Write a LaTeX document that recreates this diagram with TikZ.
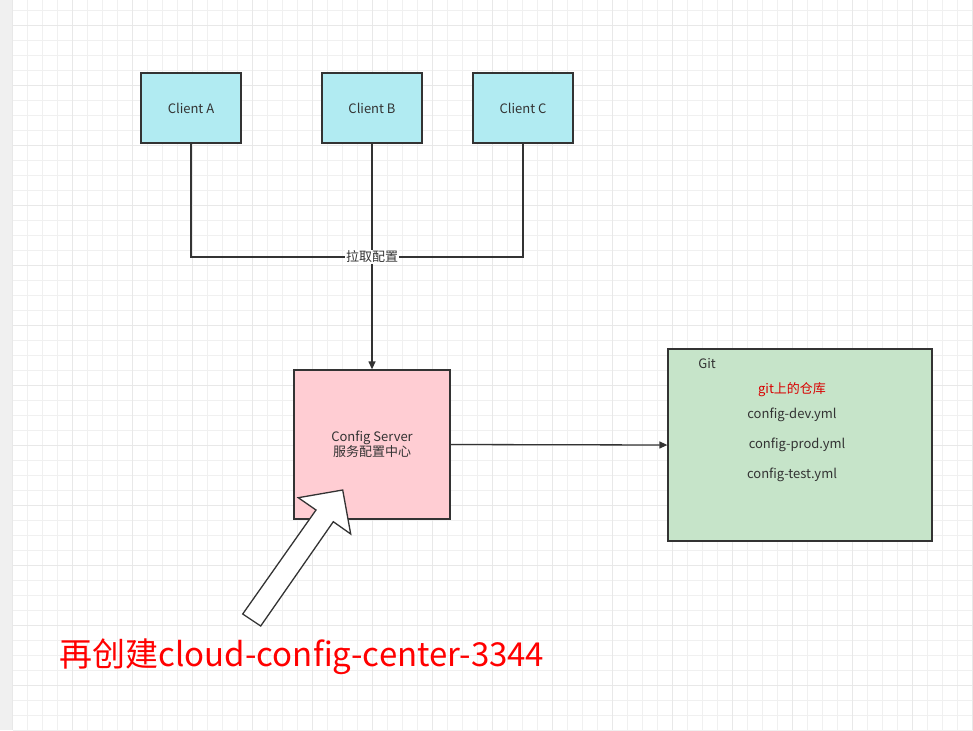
\documentclass[tikz,border=0pt]{standalone}
\usepackage{fontspec}
\setmainfont{Noto Sans CJK SC}
\usetikzlibrary{arrows.meta}
\definecolor{cli}{HTML}{B1EBF2}
\definecolor{srv}{HTML}{FFCDD3}
\definecolor{git}{HTML}{C6E4C9}
\definecolor{ln}{HTML}{333333}
\begin{document}
\begin{tikzpicture}[x=1pt,y=-1pt,
  box/.style={draw=ln,line width=1.3pt,inner sep=0pt,font=\fontsize{13}{15}\selectfont,text=ln,align=center},
  con/.style={draw=ln,line width=1.3pt},
  arr/.style={con,-{Triangle[length=8pt,width=7pt]}},
  t/.style={font=\fontsize{13}{15}\selectfont,text=ln}]
\useasboundingbox (0,0) rectangle (973,730);
\fill[white] (0,0) rectangle (973,730);
\fill[black!6] (0,0) rectangle (13,730);
\foreach \x in {12.7,27.7,...,973} \draw[black!6,line width=0.8pt] (\x,0) -- (\x,730);
\foreach \y in {10,25,...,730} \draw[black!6,line width=0.8pt] (13,\y) -- (973,\y);
\foreach \x in {12.7,72.7,...,973} \draw[black!9,line width=0.9pt] (\x,0) -- (\x,730);
\foreach \y in {25,85,...,730} \draw[black!9,line width=0.9pt] (13,\y) -- (973,\y);

\node[box,fill=cli,minimum width=100pt,minimum height=70pt] (a) at (191,108) {Client A};
\node[box,fill=cli,minimum width=100pt,minimum height=70pt] (b) at (372,108) {Client B};
\node[box,fill=cli,minimum width=100pt,minimum height=70pt] (c) at (523,108) {Client C};
\node[box,fill=srv,minimum width=156pt,minimum height=149pt] (s) at (372,444.5) {Config Server\\服务配置中心};
\node[box,fill=git,minimum width=264pt,minimum height=192pt] (g) at (800,445) {};
\coordinate (j) at (372,257);
\draw[con] (a.south) |- (j);
\draw[con] (c.south) |- (j);
\draw[arr] (b.south) -- (s.north);
\node[t,fill=white,inner sep=1pt] (lbl) at (j) {拉取配置};
\draw[arr] (s.east) -- (g.west);
\node[t] (gt) at (707,364) {Git};
\node[t,text=red!85!black] (gr) at (792,390) {git上的仓库};
\node[t] (g1) at (792,415) {config-dev.yml};
\node[t] (g2) at (797,445) {config-prod.yml};
\node[t] (g3) at (792,475) {config-test.yml};
\draw[draw=ln,fill=white,line width=1.3pt,line join=miter] (242.7,614) -- (260.7,626) -- (333.3,521.7) -- (350.7,534) -- (342.7,490) -- (298.3,497.7) -- (316,510) -- cycle;
\node[font=\fontsize{33}{37}\selectfont,text=red] (big) at (302,657) {再创建cloud-config-center-3344};
\end{tikzpicture}
\end{document}
